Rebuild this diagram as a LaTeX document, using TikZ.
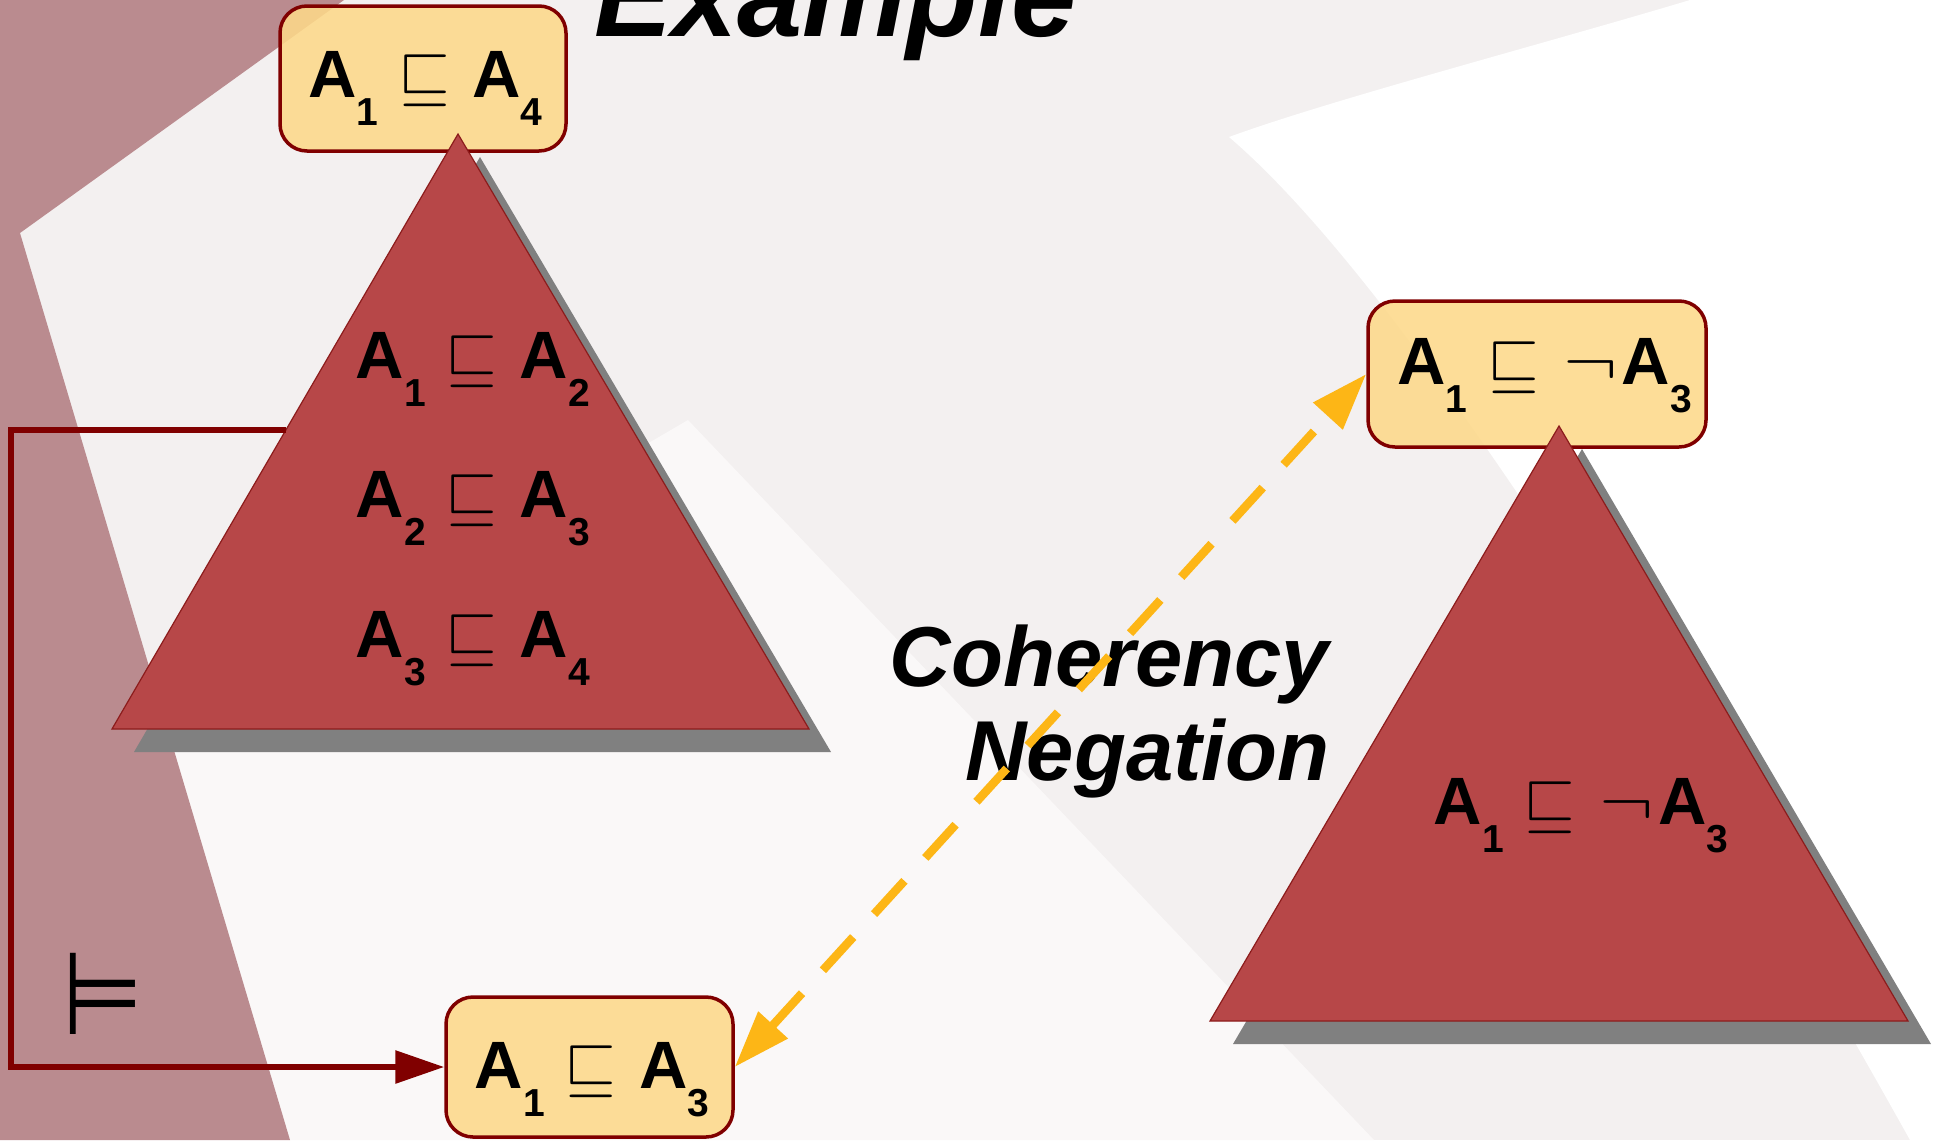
\documentclass[tikz,border=0pt]{standalone}
\usepackage{fix-cm}
\usepackage{fontspec}
\setmainfont{Liberation Sans}
\newfontfamily\symfont{DejaVu Sans}
\usepackage{tikz}
\usetikzlibrary{positioning,calc,arrows.meta}

\definecolor{boxfill}{RGB}{253,217,138}
\definecolor{boxline}{RGB}{128,0,0}
\definecolor{kbred}{RGB}{183,71,72}
\definecolor{kbline}{RGB}{140,28,28}
\definecolor{kbshade}{RGB}{128,128,128}
\definecolor{mauve}{RGB}{186,139,143}
\definecolor{paper}{RGB}{243,240,240}
\definecolor{lightpaper}{RGB}{250,248,248}
\definecolor{dashorange}{RGB}{253,182,22}

\newcommand{\axfont}{\fontsize{19.06}{22}\selectfont\bfseries}
\newcommand{\axsub}[1]{\raisebox{-0.28cm}{\fontsize{11.1}{12}\selectfont #1}}
\newcommand{\axincl}[2]{A\axsub{#1}\hspace{0.2cm}$\sqsubseteq$\hspace{0.22cm}A\axsub{#2}}
\newcommand{\axnincl}[2]{A\axsub{#1}\hspace{0.2cm}$\sqsubseteq$\hspace{0.24cm}\scalebox{1.22}[1]{$\neg$}\hspace{0.04cm}A\axsub{#2}}

\tikzset{
  axbox/.style={draw=boxline, line width=0.035cm, fill=boxfill, fill opacity=0.88, text opacity=1,
    rounded corners=0.27cm, inner sep=0pt, font=\axfont},
  axiom/.style={inner sep=0pt, font=\axfont, anchor=base west},
  kb/.style={fill=kbred, draw=kbline, line width=0.012cm},
  kbshadow/.style={fill=kbshade},
}

\begin{document}
\begin{tikzpicture}[auto, node distance=1.5cm,
    entail/.style={draw=boxline, line width=0.06cm, -{Triangle[length=0.49cm, width=0.32cm]}},
    negates/.style={draw=dashorange, line width=0.085cm, dash pattern=on 0.45cm off 0.31cm,
      {Triangle[length=0.57cm, width=0.38cm]}-{Triangle[length=0.57cm, width=0.38cm]}}]
    \useasboundingbox (0,0) rectangle (19.43,-11.40);
    \clip (0,0) rectangle (19.43,-11.40);

    % background
    \fill[paper] (0,0) rectangle (19.43,-11.40);
    \fill[white] (16.90,0) .. controls (15.4,-0.45) and (13.3,-1.0) .. (12.29,-1.37)
        .. controls (14.2,-3.0) and (17.2,-8.0) .. (19.10,-11.40) -- (19.43,-11.40) -- (19.43,0) -- cycle;
    \fill[lightpaper] (6.88,-4.20) -- (13.74,-11.40) -- (2.60,-11.40) -- (1.40,-7.40) -- cycle;
    \fill[mauve] (0,0) -- (3.44,0) -- (0.20,-2.33) -- (2.90,-11.40) -- (0,-11.40) -- cycle;

    % axiom boxes
    \node[axbox, minimum width=2.86cm, minimum height=1.45cm, text height=0.585cm, text depth=0.215cm] (b4) at (4.23,-0.785) {\hspace{0.05cm}\axincl14};
    \node[axbox, minimum width=2.87cm, minimum height=1.40cm, text height=0.61cm, text depth=0.19cm] (b3) at (5.895,-10.67) {\hspace{0.05cm}\axincl13};
    \node[axbox, minimum width=3.38cm, minimum height=1.46cm, text height=0.50cm, text depth=0.30cm] (b1n) at (15.37,-3.74) {\hspace{0.15cm}\axnincl13};

    % knowledge bases
    \fill[kbshadow] ($(4.58,-1.34)+(0.22,-0.23)$) -- ($(1.12,-7.29)+(0.22,-0.23)$) -- ($(8.09,-7.29)+(0.22,-0.23)$) -- cycle;
    \path[kb] (4.58,-1.34) -- (1.12,-7.29) -- (8.09,-7.29) -- cycle;
    \fill[kbshadow] ($(15.59,-4.26)+(0.23,-0.23)$) -- ($(12.10,-10.21)+(0.23,-0.23)$) -- ($(19.08,-10.21)+(0.23,-0.23)$) -- cycle;
    \path[kb] (15.59,-4.26) -- (12.10,-10.21) -- (19.08,-10.21) -- cycle;

    \node[axiom] (ax12) at (3.55,-3.78) {\axincl12};
    \node[axiom] (ax23) at (3.55,-5.17) {\axincl23};
    \node[axiom] (ax34) at (3.55,-6.57) {\axincl34};
    \node[axiom] (ax13n) at (14.33,-8.24) {\axnincl13};

    \node[anchor=base west, inner sep=0pt, font=\fontsize{33.3}{36}\selectfont\bfseries\itshape] (title) at (5.94,-0.36) {Example};
    \node[anchor=north east, align=right, inner sep=0pt, font=\fontsize{24.2}{26.7}\selectfont\bfseries\itshape] (coh) at (13.30,-6.24) {Coherency\\Negation};
    \node[inner sep=0pt, font=\fontsize{33}{33}\selectfont\symfont] (ent) at (1.03,-9.94) {\scalebox{0.8}[1]{⊨}};

    % connectors
    \coordinate (kbleft) at (2.86,-4.30);
    \coordinate (bend) at (0.11,-4.30);
    \draw[entail] (kbleft) -- (bend) |- (b3.west);
    \draw[negates] (b3.east) -- (b1n.west);
\end{tikzpicture}
\end{document}
